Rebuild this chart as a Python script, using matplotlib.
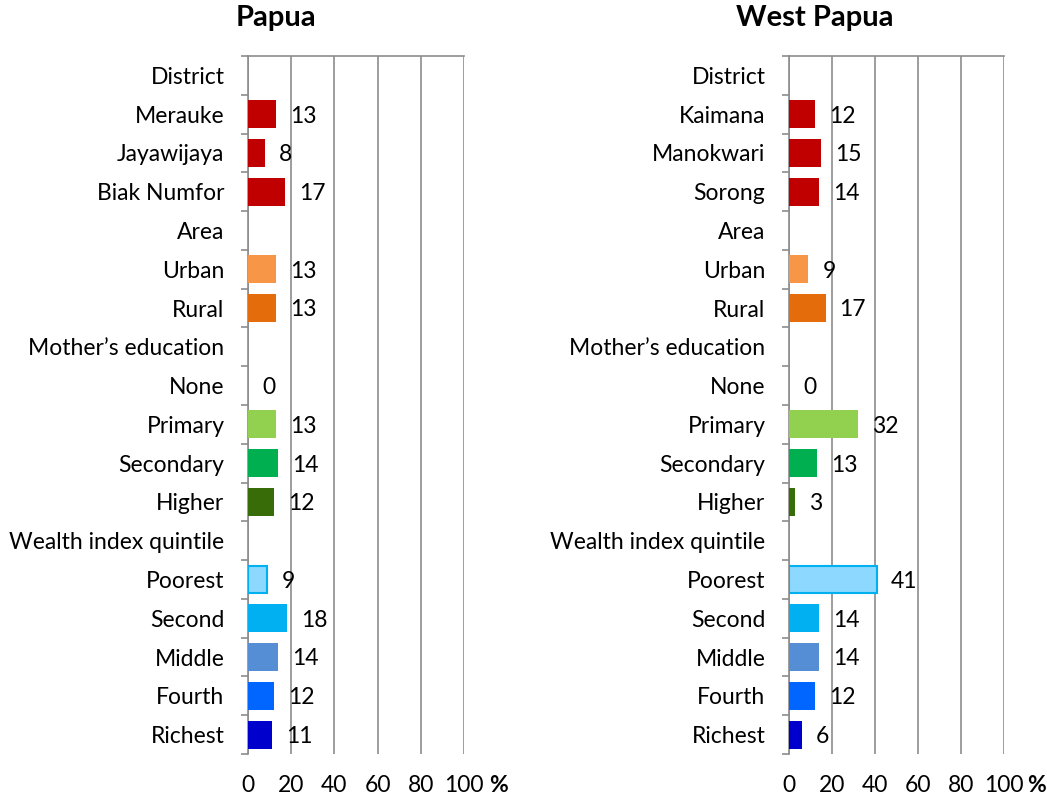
import matplotlib.pyplot as plt

plt.rcParams['font.family'] = ['Lato', 'DejaVu Sans']

categories = ["District", "Merauke", "Jayawijaya", "Biak Numfor", "Area", "Urban", "Rural",
              "Mother\u2019s education", "None", "Primary", "Secondary", "Higher",
              "Wealth index quintile", "Poorest", "Second", "Middle", "Fourth", "Richest"]
categories_wp = ["District", "Kaimana", "Manokwari", "Sorong", "Area", "Urban", "Rural",
                 "Mother\u2019s education", "None", "Primary", "Secondary", "Higher",
                 "Wealth index quintile", "Poorest", "Second", "Middle", "Fourth", "Richest"]
# None = header row (no bar, no label)
papua = [None, 13, 8, 17, None, 13, 13, None, 0, 13, 14, 12, None, 9, 18, 14, 12, 11]
west_papua = [None, 12, 15, 14, None, 9, 17, None, 0, 32, 13, 3, None, 41, 14, 14, 12, 6]

colors = [None, "#C00000", "#C00000", "#C00000", None, "#F79646", "#E46C0A", None,
          "#FFFFFF", "#92D050", "#00B050", "#376C09", None, "#8DD8FF", "#00B0F0",
          "#558ED5", "#0066FF", "#0000CC"]
edges = {13: "#00B0F0"}

grid_c = "#8C8C8C"
fs = 16.5

fig = plt.figure(figsize=(10.47, 7.98), dpi=100)
W, H = 1047, 798


def draw(ax, cats, vals, title, title_x):
    ax.set_xlim(0, 100)
    ax.set_ylim(len(cats) - 0.5, -0.5)
    for i, v in enumerate(vals):
        if v is None:
            continue
        ec = edges.get(i, colors[i])
        ax.barh(i, v, height=0.72, color=colors[i], edgecolor=ec,
                linewidth=1.5 if i in edges else 0, zorder=3)
        ax.text(v + 6.5, i + 0.05, f"{v}", va="center", ha="left", fontsize=fs, zorder=4)
    ax.set_yticks(range(len(cats)))
    ax.set_yticklabels(cats, fontsize=fs)
    ax.set_yticks([k - 0.5 for k in range(len(cats) + 1)], minor=True)
    ax.tick_params(axis="y", which="major", length=0, pad=17)
    ax.tick_params(axis="y", which="minor", length=5, width=1.2, color=grid_c)
    ax.set_xticks(range(0, 101, 20))
    ax.tick_params(axis="x", length=0, pad=15, labelsize=fs)
    ax.grid(axis="x", color=grid_c, linewidth=1.2, zorder=0)
    for s in ["bottom", "right"]:
        ax.spines[s].set_visible(False)
    for s in ["top", "left"]:
        ax.spines[s].set_color(grid_c)
        ax.spines[s].set_linewidth(1.2)
    fig.text(title_x / W, 1 - 18 / H, title, fontsize=21, fontweight="bold",
             ha="center", va="center")


ax1 = fig.add_axes([248 / W, 1 - 754 / H, 216 / W, 698 / H])
draw(ax1, categories, papua, "Papua", 276)
ax2 = fig.add_axes([789 / W, 1 - 754 / H, 215 / W, 698 / H])
draw(ax2, categories_wp, west_papua, "West Papua", 815)

fig.text(498 / W, 1 - 785 / H, "%", fontsize=fs, fontweight="bold", ha="center", va="center")
fig.text(1037 / W, 1 - 785 / H, "%", fontsize=fs, fontweight="bold", ha="center", va="center")

fig.savefig("out.png", dpi=100)
